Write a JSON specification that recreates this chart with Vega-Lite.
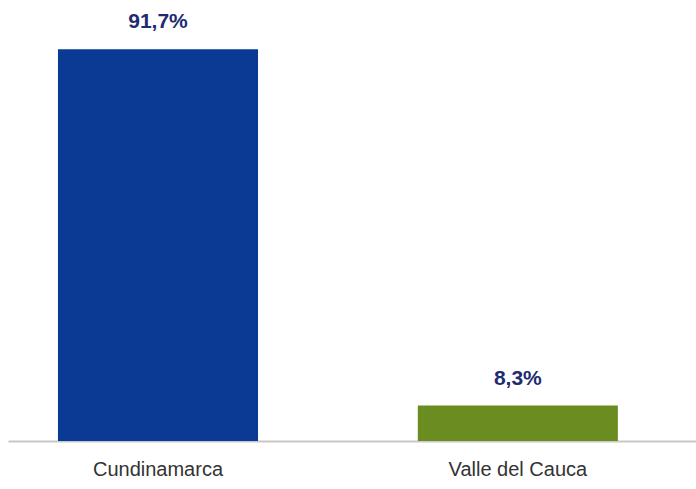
{
  "$schema": "https://vega.github.io/schema/vega-lite/v6.json",
  "width": 688,
  "height": 441,
  "padding": {"left": 8, "top": 0, "right": 0, "bottom": 0},
  "autosize": {"type": "pad"},
  "background": "white",
  "data": {"values": [
    {"region": "Cundinamarca", "pct": 91.7, "label": "91,7%"},
    {"region": "Valle del Cauca", "pct": 8.3, "label": "8,3%"}
  ]},
  "encoding": {
    "x": {"field": "region", "type": "nominal", "sort": null,
      "scale": {"paddingInner": 0.444, "paddingOuter": 0.178, "align": 0.39},
      "axis": {"title": null, "labelAngle": 0, "ticks": false, "domainColor": "#c8c8c8", "domainWidth": 2,
        "labelFont": "Liberation Sans", "labelFontSize": 20, "labelColor": "#333333", "labelPadding": 18}},
    "y": {"field": "pct", "type": "quantitative", "scale": {"domain": [0, 103.2]}, "axis": null}
  },
  "layer": [
    {"mark": {"type": "bar"},
     "encoding": {"color": {"field": "region", "type": "nominal", "legend": null,
       "scale": {"domain": ["Cundinamarca", "Valle del Cauca"], "range": ["#0b3a94", "#6b8c20"]}}}},
    {"mark": {"type": "text", "dy": -27, "font": "Liberation Sans", "fontWeight": "bold", "fontSize": 21, "color": "#1f2b6e"},
     "encoding": {"text": {"field": "label"}}}
  ],
  "config": {"view": {"stroke": null}}
}
